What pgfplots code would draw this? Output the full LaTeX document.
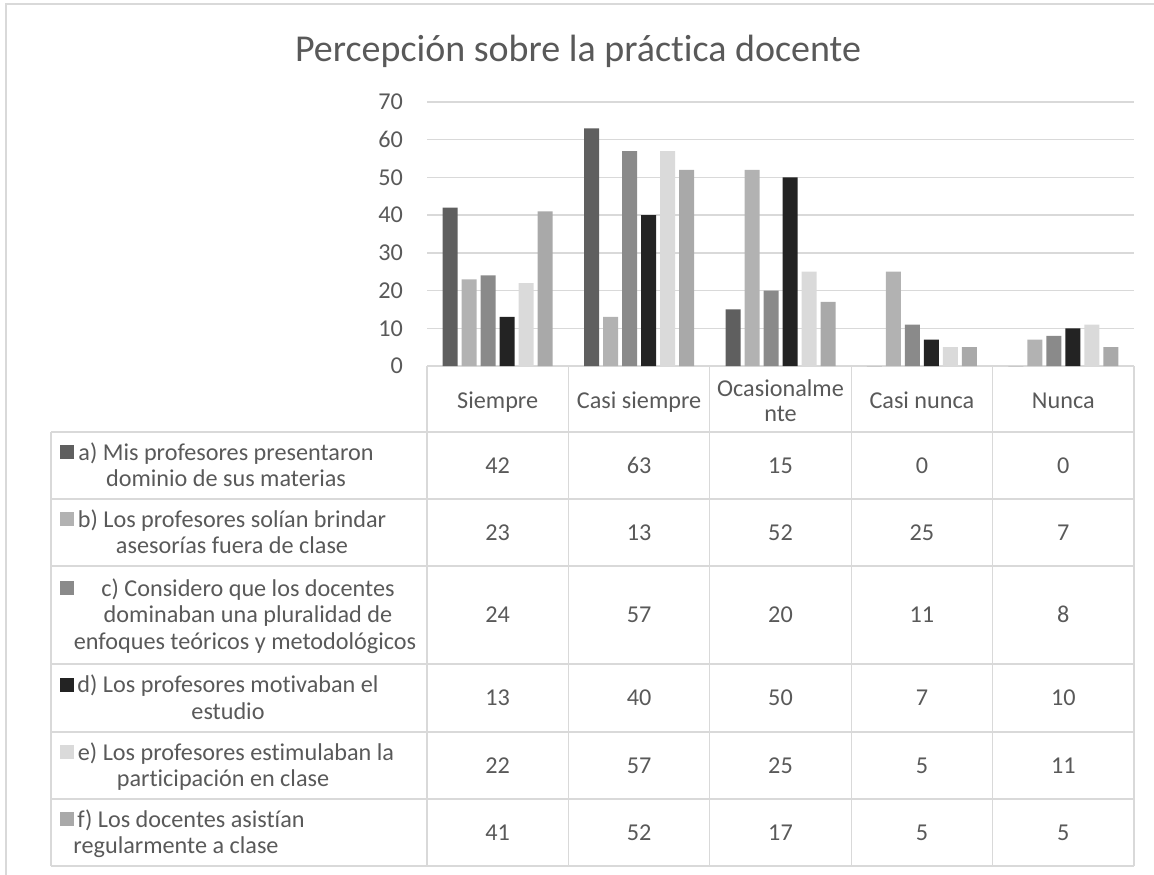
\documentclass[border=0pt]{standalone}
\usepackage{pgfplots}
\pgfplotsset{compat=1.18}
\usepackage{pgfplotstable}
\usepackage{fontspec}
\setmainfont{Carlito}[Ligatures=NoCommon]

\definecolor{ca}{HTML}{5F5F5F}
\definecolor{cb}{HTML}{B2B2B2}
\definecolor{cc}{HTML}{8A8A8A}
\definecolor{cd}{HTML}{232323}
\definecolor{ce}{HTML}{DADADA}
\definecolor{cf}{HTML}{A9A9A9}
\definecolor{gridc}{HTML}{D9D9D9}
\definecolor{txt}{HTML}{595959}

% rows: Siempre, Casi siempre, Ocasionalmente, Casi nunca, Nunca
\pgfplotstableread{
cat a b c d e f
0 42 23 24 13 22 41
1 63 13 57 40 57 52
2 15 52 20 50 25 17
3 0 25 11 7 5 5
4 0 7 8 10 11 5
}\datos

\newcommand\fs{\fontsize{24.2}{29}\selectfont}

\begin{document}
\begin{tikzpicture}
\begin{scope}[x=1pt,y=-1pt]
  \path[use as bounding box] (0,0) rectangle (1154,875);
  % chart border
  \draw[gridc, line width=1.5pt] (6,875) -- (6,4) -- (1154,4);
  % title
  \node[anchor=base, text=txt, font=\fontsize{38}{42}\selectfont, inner sep=0pt] at (578,62) {Percepción sobre la práctica docente};
  % data table grid
  \draw[gridc, line width=1.3pt] (427,366) -- (1134,366);
  \foreach \yy in {432,499,566,664,732,799,866}
    \draw[gridc, line width=1.3pt] (51,\yy) -- (1134,\yy);
  \foreach \xx in {427,568.4,709.8,851.2,992.6,1134}
    \draw[gridc, line width=1.3pt] (\xx,366) -- (\xx,866);
  \draw[gridc, line width=1.3pt] (51,432) -- (51,866);
  % header
  \begin{scope}[every node/.style={anchor=base, text=txt, font=\fs, inner sep=0pt}]
    \node at (497.7,408) {Siempre};
    \node at (639.1,408) {Casi siempre};
    \node at (780.5,396) {Ocasionalme};
    \node at (780.5,421) {nte};
    \node at (921.9,408) {Casi nunca};
    \node at (1063.3,408) {Nunca};
    % series labels
    \node at (226,460) {a) Mis profesores presentaron};
    \node at (226,486.5) {dominio de sus materias};
    \node at (232,527) {b) Los profesores solían brindar};
    \node at (232,553.5) {asesorías fuera de clase};
    \node at (248,596) {c) Considero que los docentes};
    \node at (248,622.5) {dominaban una pluralidad de};
    \node at (245,649) {enfoques teóricos y metodológicos};
    \node at (228,692.5) {d) Los profesores motivaban el};
    \node at (228,719) {estudio};
    \node at (236,760) {e) Los profesores estimulaban la};
    \node at (223,786.5) {participación en clase};
    \node at (191,827) {f) Los docentes asistían};
    \node at (176,853.5) {regularmente a clase};
    % values
    \foreach \s/\yy in {a/465.5,b/532.5,c/615,d/698,e/765.5,f/832.5}
      \foreach \r in {0,...,4}{
        \pgfplotstablegetelem{\r}{\s}\of\datos
        \node at ({427+141.4*(\r+0.5)},{\yy+7.5}) {\pgfplotsretval};
      }
  \end{scope}
  % legend keys
  \foreach \c/\yy in {ca/452,cb/519,cc/588,cd/685,ce/752,cf/819}
    \fill[\c] (60,\yy-7) rectangle (74,\yy+7);
\end{scope}

\begin{axis}[
  at={(427pt,-366pt)}, anchor=south west,
  scale only axis, width=707pt, height=264pt,
  xmin=0, xmax=5, ymin=0, ymax=70,
  enlargelimits=false,
  ybar=4pt, bar width=15pt,
  xtick=\empty,
  ytick={0,10,...,70},
  ymajorgrids, grid style={gridc, line width=1.3pt},
  axis line style={draw=none},
  major tick length=0pt,
  yticklabel style={text=txt, font=\fs, inner sep=0pt, anchor=east, xshift=-24pt},
  /pgf/number format/assume math mode=true,
  clip=false,
]
\addplot[fill=ca, draw=none] table[x expr=\coordindex+0.5, y=a]{\datos};
\addplot[fill=cb, draw=none] table[x expr=\coordindex+0.5, y=b]{\datos};
\addplot[fill=cc, draw=none] table[x expr=\coordindex+0.5, y=c]{\datos};
\addplot[fill=cd, draw=none] table[x expr=\coordindex+0.5, y=d]{\datos};
\addplot[fill=ce, draw=none] table[x expr=\coordindex+0.5, y=e]{\datos};
\addplot[fill=cf, draw=none] table[x expr=\coordindex+0.5, y=f]{\datos};
\end{axis}
\end{tikzpicture}
\end{document}
